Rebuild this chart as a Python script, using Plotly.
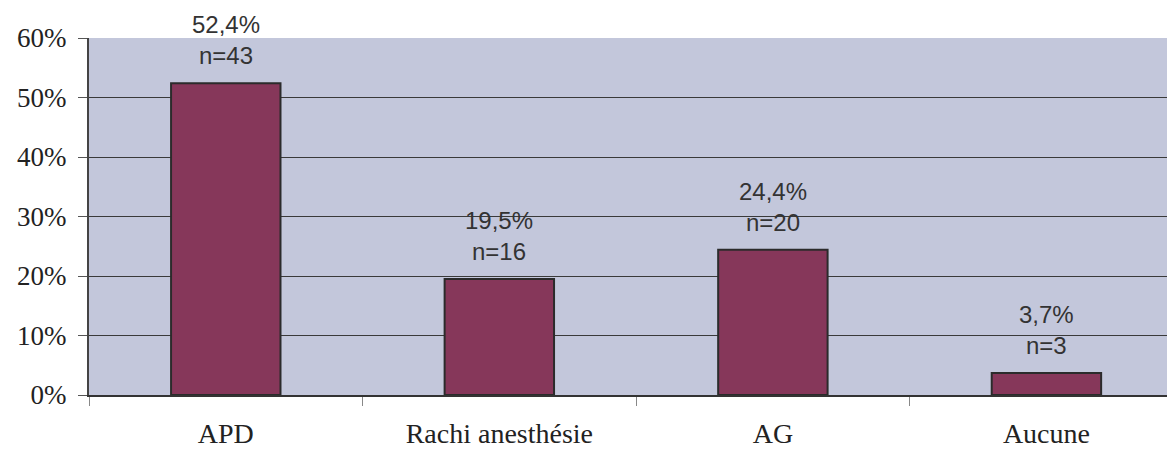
import plotly.graph_objects as go

categories = ["APD", "Rachi anesthésie", "AG", "Aucune"]
percent = [52.4, 19.5, 24.4, 3.7]
counts = [43, 16, 20, 3]
pct_labels = ["52,4%", "19,5%", "24,4%", "3,7%"]
y_ticks = [0, 10, 20, 30, 40, 50, 60]

fig = go.Figure()
fig.add_trace(go.Bar(
    x=categories, y=percent, width=0.40,
    marker=dict(color="#86375a", line=dict(color="#2b2b2b", width=2)),
    hoverinfo="skip",
))

for c, p, n, lab in zip(categories, percent, counts, pct_labels):
    fig.add_annotation(
        x=c, y=p, text=f"{lab}<br>n={n}", showarrow=False,
        yanchor="bottom", yshift=12,
        font=dict(family="Liberation Sans, Arial", size=24, color="#333333"),
    )

fig.update_layout(
    width=1167, height=442,
    margin=dict(l=81, r=0, t=30, b=55),
    paper_bgcolor="white",
    plot_bgcolor="#c3c7db",
    showlegend=False,
    bargap=0.6,
    xaxis=dict(
        range=[-0.5, 3.47],
        automargin=False,
        tickson="boundaries",
        ticks="outside", ticklen=9, tickcolor="#888888",
        showgrid=False,
        showline=True, linecolor="#333333", linewidth=2,
        tickfont=dict(family="Liberation Serif, Times New Roman", size=28, color="#222222"),
        ticklabelstandoff=12,
    ),
    yaxis=dict(
        range=[0, 60],
        automargin=False,
        tickvals=y_ticks,
        ticktext=[f"{v}%" for v in y_ticks],
        ticks="outside", ticklen=9, tickcolor="#555555",
        showgrid=True, gridcolor="#3a3a3a", gridwidth=1,
        showline=True, linecolor="#444444", linewidth=2,
        zeroline=False,
        tickfont=dict(family="Liberation Serif, Times New Roman", size=27, color="#222222"),
        ticklabelstandoff=6,
    ),
)

fig.write_html("out.html")
